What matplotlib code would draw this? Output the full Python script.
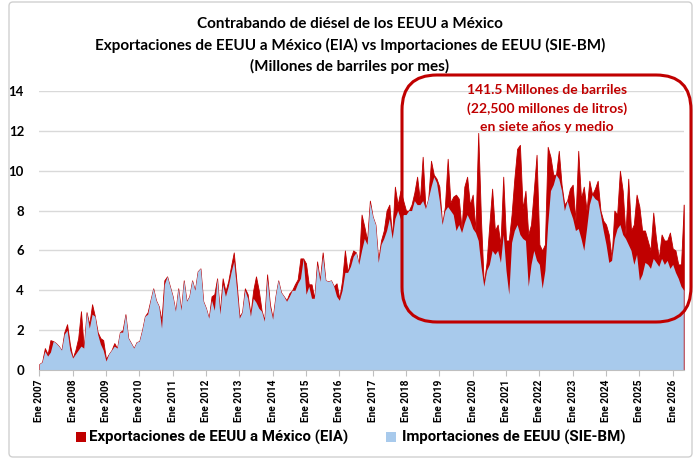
import numpy as np
import matplotlib
matplotlib.use("Agg")
from matplotlib import pyplot as plt
from matplotlib.patches import FancyBboxPatch, Rectangle

# Millones de barriles por mes, mensual desde Ene 2007
eia = [
    0.3, 0.4, 1.1, 0.8, 1.5, 1.45, 1.35, 1.2, 1.0, 1.9, 2.3, 1.3,        # 2007
    0.6, 1.0, 1.6, 2.95, 1.1, 2.9, 2.3, 3.3, 2.7, 1.9, 1.6, 1.5,         # 2008
    0.55, 0.8, 1.0, 1.35, 1.1, 1.9, 2.0, 2.8, 1.6, 1.35, 1.1, 1.4,       # 2009
    1.45, 2.0, 2.7, 2.9, 3.5, 4.1, 3.5, 3.2, 2.5, 4.5, 4.7, 4.2,         # 2010
    3.7, 2.95, 4.1, 3.0, 4.5, 3.45, 3.7, 4.5, 4.0, 4.95, 5.1, 3.45,      # 2011
    3.1, 2.6, 3.7, 3.8, 4.6, 2.9, 4.6, 3.95, 4.45, 5.2, 5.9, 4.4,        # 2012
    2.7, 2.9, 4.1, 3.8, 2.8, 4.0, 4.7, 4.0, 3.0, 2.5, 4.8, 3.3,          # 2013
    2.6, 3.7, 4.5, 3.9, 3.7, 3.5, 3.85, 4.0, 4.3, 4.55, 5.6, 5.6,        # 2014
    5.35, 4.3, 4.3, 3.6, 5.45, 4.5, 5.9, 4.5, 4.45, 4.5, 4.2, 4.35,      # 2015
    3.6, 4.5, 6.0, 4.9, 5.6, 6.0, 5.9, 5.3, 7.8, 7.2, 6.5, 8.5,          # 2016
    7.7, 7.3, 5.5, 6.5, 7.0, 8.0, 8.3, 6.7, 9.2, 8.3, 9.0, 8.5,          # 2017
    8.0, 8.0, 8.3, 8.9, 9.7, 8.5, 10.7, 8.1, 8.6, 10.5, 9.8, 9.6,        # 2018
    9.2, 7.3, 8.2, 10.6, 8.4, 8.7, 8.8, 8.6, 7.1, 9.2, 9.7, 8.3,         # 2019
    8.8, 7.0, 11.9, 7.5, 4.3, 5.4, 7.3, 9.1, 7.0, 7.3, 6.3, 9.7,         # 2020
    6.5, 6.5, 7.8, 9.6, 11.1, 11.3, 8.1, 9.0, 6.8, 7.3, 9.0, 10.8,       # 2021
    6.3, 6.0, 6.3, 11.2, 10.7, 9.8, 9.8, 11.0, 9.3, 8.3, 8.5, 9.1,       # 2022
    9.3, 7.5, 11.0, 8.6, 9.2, 8.0, 9.5, 8.8, 9.1, 9.5, 8.0, 7.5,         # 2023
    7.3, 6.8, 5.6, 8.0, 7.8, 10.0, 9.0, 6.8, 9.6, 7.0, 7.3, 8.8,         # 2024
    8.2, 7.0, 7.0, 6.5, 6.0, 7.9, 6.6, 5.6, 6.8, 6.5, 6.5, 6.9,          # 2025
    6.1, 6.0, 5.3, 5.3, 8.3,                                             # 2026
]

sie = [
    0.3, 0.4, 0.95, 0.7, 0.9, 1.45, 1.35, 1.2, 1.0, 1.8, 2.0, 1.0,       # 2007
    0.6, 0.8, 1.0, 1.2, 1.1, 2.9, 2.1, 2.8, 2.7, 1.8, 1.3, 1.0,          # 2008
    0.45, 0.8, 1.0, 1.2, 1.1, 1.9, 1.9, 2.8, 1.6, 1.35, 1.1, 1.4,        # 2009
    1.45, 2.0, 2.7, 2.8, 3.5, 4.1, 3.5, 3.2, 2.1, 4.3, 4.7, 4.2,         # 2010
    3.7, 2.95, 4.1, 3.0, 4.5, 3.45, 3.7, 4.5, 4.0, 4.95, 5.1, 3.45,      # 2011
    3.1, 2.6, 3.5, 3.0, 4.6, 2.8, 4.3, 3.7, 4.2, 4.9, 5.45, 4.1,         # 2012
    2.6, 2.9, 4.0, 3.6, 2.7, 3.6, 3.4, 3.1, 2.95, 2.45, 4.6, 3.2,        # 2013
    2.55, 3.7, 4.5, 3.9, 3.7, 3.45, 3.7, 4.0, 4.0, 4.35, 4.6, 5.6,       # 2014
    3.8, 4.2, 3.6, 3.6, 5.3, 4.45, 5.7, 4.5, 4.45, 4.5, 4.2, 3.7,        # 2015
    3.5, 4.0, 4.9, 4.9, 5.2, 5.7, 5.9, 5.3, 6.0, 6.6, 6.3, 8.4,          # 2016
    7.7, 7.3, 5.4, 6.3, 6.6, 7.0, 7.6, 6.6, 7.6, 8.0, 7.6, 7.8,          # 2017
    7.8, 8.0, 8.0, 8.5, 8.3, 8.3, 8.5, 8.1, 8.6, 9.2, 9.7, 9.4,          # 2018
    8.5, 7.3, 8.0, 8.2, 8.0, 7.8, 7.0, 7.3, 6.9, 7.4, 7.8, 7.5,          # 2019
    7.1, 6.9, 6.5, 5.2, 4.2, 5.0, 5.3, 6.0, 5.8, 6.0, 5.4, 6.8,          # 2020
    5.0, 3.8, 6.4, 7.0, 7.3, 6.8, 6.6, 6.5, 4.2, 5.3, 6.0, 5.5,          # 2021
    5.3, 4.1, 5.0, 7.3, 9.0, 9.3, 9.8, 9.6, 9.0, 8.0, 8.5, 8.0,          # 2022
    7.6, 7.0, 7.1, 6.6, 6.0, 7.1, 8.3, 8.8, 8.6, 8.5, 7.8, 7.0,          # 2023
    6.3, 5.4, 5.5, 6.6, 7.1, 7.3, 6.8, 6.6, 6.3, 6.0, 5.3, 5.8,          # 2024
    4.5, 4.8, 5.4, 5.3, 5.1, 5.6, 5.4, 5.2, 5.6, 5.3, 5.5, 5.1,          # 2025
    5.3, 4.9, 4.6, 4.2, 4.0,                                             # 2026
]

years = list(range(2007, 2027))
tick_labels = ["Ene %d" % y for y in years]
y_ticks = [0, 2, 4, 6, 8, 10, 12, 14]

title_lines = ["Contrabando de diésel de los EEUU a México",
               "Exportaciones de EEUU a México (EIA) vs Importaciones de EEUU (SIE-BM)",
               "(Millones de barriles por mes)"]
note_lines = ["141.5 Millones de barriles",
              "(22,500 millones de litros)",
              "en siete años y medio"]
legend_labels = ["Exportaciones de EEUU a México (EIA)", "Importaciones de EEUU (SIE-BM)"]

RED = "#C00000"
BLUE = "#A8CAEC"
W, H = 700, 465

fig = plt.figure(figsize=(7, 4.65), dpi=100)

x = np.arange(len(eia))
ax = fig.add_axes([39.3 / W, 95 / H, (683.8 - 39.3) / W, 279 / H])
ax.fill_between(x, 0, eia, color=RED, lw=0.6, zorder=2)
ax.fill_between(x, 0, sie, color=BLUE, lw=0, zorder=3)
ax.plot([x[-1], x[-1]], [0, eia[-1]], color=RED, lw=1, zorder=4)
ax.set_xlim(0, x[-1])
ax.set_ylim(0, 14)
ax.set_yticks(y_ticks)
ax.set_yticklabels([str(v) for v in y_ticks], fontfamily="Lato", fontweight="bold", fontsize=9.5)
ax.set_xticks(np.arange(len(years)) * 12)
ax.set_xticklabels(tick_labels, rotation=90, fontfamily="Roboto",
                   fontweight="bold", fontsize=7.3)
ax.tick_params(axis="y", length=0, pad=11)
ax.tick_params(axis="x", length=4, color="#BFBFBF", pad=3)
ax.grid(axis="y", color="#D9D9D9", lw=1)
ax.set_axisbelow(True)
for s in ["top", "right", "left"]:
    ax.spines[s].set_visible(False)
ax.spines["bottom"].set_color("#BFBFBF")
ax.spines["bottom"].set_zorder(5)

# overlay in pixel coords for title, box and legend
ov = fig.add_axes([0, 0, 1, 1], zorder=10)
ov.set_xlim(0, W)
ov.set_ylim(H, 0)
ov.axis("off")
ov.patch.set_alpha(0)

ov.add_patch(FancyBboxPatch((9, 2), 683, 455, boxstyle="round,pad=0,rounding_size=4",
                            fc="none", ec="#D0D0D0", lw=1))

for i, t in enumerate(title_lines):
    ov.text(350, 24 + i * 21, t, ha="center", va="center", fontfamily="Lato",
            fontweight="bold", fontsize=11)

ov.add_patch(FancyBboxPatch((402, 75), 289, 247, boxstyle="round,pad=0,rounding_size=35",
                            fc="none", ec=RED, lw=2.2))
for i, t in enumerate(note_lines):
    ov.text(547, 90 + i * 18.5, t, ha="center", va="center", fontfamily="Lato",
            fontweight="bold", fontsize=10, color=RED)

ov.add_patch(Rectangle((76, 432), 10, 10, fc=RED, ec="none"))
ov.text(89, 437, legend_labels[0], ha="left", va="center", fontfamily="Roboto",
        fontweight="bold", fontsize=10.8)
ov.add_patch(Rectangle((386, 432), 10, 10, fc=BLUE, ec="none"))
ov.text(402, 437, legend_labels[1], ha="left", va="center", fontfamily="Roboto",
        fontweight="bold", fontsize=10.8)

fig.savefig("out.png", dpi=100)
